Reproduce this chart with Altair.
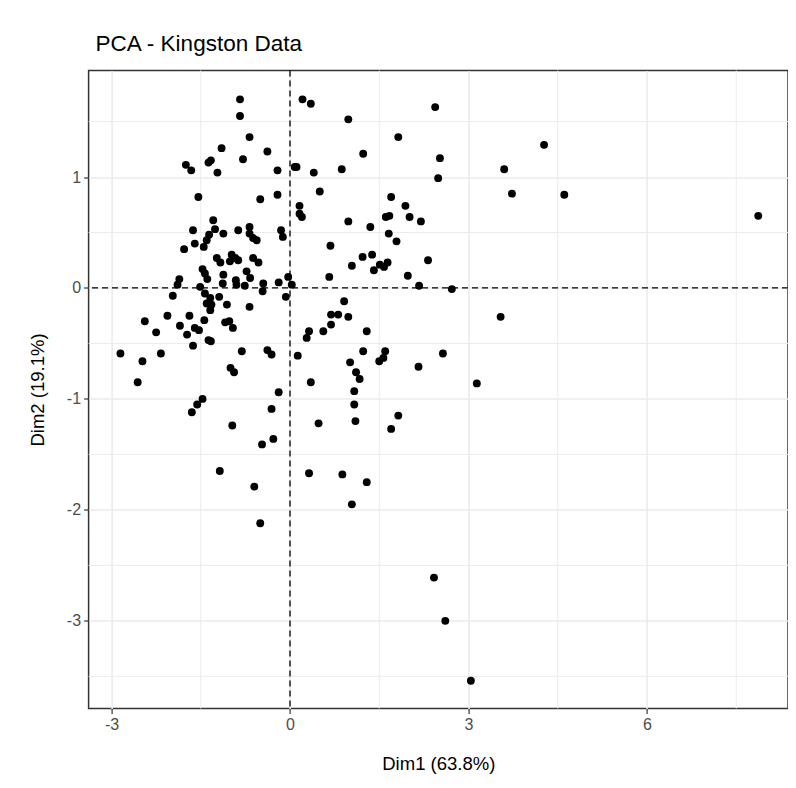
import altair as alt
import pandas as pd

# Individuals coordinates
dim1 = [
    -0.84, -0.84, -0.68, -1.15, -0.38, -1.75, -1.66, -1.37, -1.33, -1.22,
    -0.79, -0.21, -1.54, -0.50, -0.21, -1.29, -1.63, -0.87, -0.68, -0.68,
    -0.56, -1.12, -1.36, -1.40, -1.45, -1.60, -1.78, -0.15, -0.12, -1.26,
    -1.23, -1.17, -0.98, -1.01, -0.87, -0.62, -0.53, -1.47, -1.43, -1.39,
    -1.12, -1.13, -0.91, -0.90, -0.73, -0.67, -0.45, -0.19, -1.86, -1.89,
    -0.03, -0.62, -0.92, -1.51, -0.76,
    -1.97, -1.43, -1.34, -1.40, -1.32, -1.34, -1.19, -1.06, -0.68, -0.46,
    -0.07, -2.44, -2.06, -1.69, -1.85, -1.44, -2.25, -1.73, -1.60, -1.53,
    -1.63, -1.37, -1.33, -1.09, -1.02, -0.96, -2.85, -2.48, -2.17, -2.56,
    -0.81, -0.38, -0.31, -1.00, -0.94, -1.47, -1.56, -1.65, -0.19, -0.31,
    -0.97, -0.28, -0.47, -1.18, -0.60,
    0.21, 0.35, 0.98, 2.44, 1.82, 1.23, 2.52, 2.49, 0.08, 0.11,
    0.40, 0.87, 0.50, 0.16, 0.16, 0.20, 0.98, 1.35, 1.70, 1.94,
    2.01, 2.20, 1.61, 1.67, 1.66, 1.79, 0.68, 1.22, 1.38, 1.04,
    1.41, 1.51, 1.58, 1.64, 2.32, 0.66, 1.98, 2.17, 2.72, 0.03,
    0.91, 0.69, 0.81, 0.98, 0.69, 0.56, 0.32, 0.28, 1.29, 0.13,
    1.23, 1.01, 1.11, 1.17, 1.60, 1.57, 1.50, 2.57, 2.16, 0.35,
    1.08, 1.08, 1.10, 0.48, 1.82, 1.70, 3.14, 0.32, 0.88, 1.29,
    4.27, 3.60, 3.73, 4.61, 7.87, 3.54,
    -0.50, 1.04, 2.42, 2.61, 3.04,
]
dim2 = [
    1.70, 1.55, 1.36, 1.26, 1.23, 1.11, 1.06, 1.13, 1.15, 1.04,
    1.16, 1.06, 0.82, 0.80, 0.84, 0.61, 0.52, 0.52, 0.55, 0.49,
    0.43, 0.49, 0.48, 0.43, 0.37, 0.40, 0.35, 0.52, 0.46, 0.53,
    0.27, 0.23, 0.30, 0.24, 0.25, 0.27, 0.23, 0.17, 0.13, 0.08,
    0.12, 0.04, 0.07, 0.03, 0.15, 0.09, 0.04, 0.05, 0.08, 0.03,
    0.10, 0.45, 0.27, 0.01, 0.02,
    -0.07, -0.05, -0.09, -0.14, -0.15, -0.20, -0.08, -0.15, -0.17, -0.03,
    -0.08, -0.30, -0.25, -0.25, -0.34, -0.29, -0.40, -0.42, -0.36, -0.38,
    -0.52, -0.47, -0.48, -0.31, -0.30, -0.36, -0.59, -0.66, -0.59, -0.85,
    -0.57, -0.56, -0.60, -0.72, -0.76, -1.00, -1.05, -1.12, -0.94, -1.09,
    -1.24, -1.36, -1.41, -1.65, -1.79,
    1.70, 1.66, 1.52, 1.63, 1.36, 1.21, 1.17, 0.99, 1.09, 1.09,
    1.04, 1.07, 0.87, 0.74, 0.67, 0.64, 0.60, 0.55, 0.82, 0.74,
    0.64, 0.60, 0.64, 0.65, 0.49, 0.42, 0.38, 0.28, 0.30, 0.20,
    0.16, 0.21, 0.19, 0.23, 0.25, 0.10, 0.11, 0.02, -0.01, 0.03,
    -0.12, -0.24, -0.24, -0.26, -0.33, -0.39, -0.39, -0.45, -0.39, -0.61,
    -0.57, -0.67, -0.76, -0.82, -0.57, -0.63, -0.66, -0.59, -0.71, -0.85,
    -0.93, -1.05, -1.20, -1.22, -1.15, -1.27, -0.86, -1.67, -1.68, -1.75,
    1.29, 1.07, 0.85, 0.84, 0.65, -0.26,
    -2.12, -1.95, -2.61, -3.00, -3.54,
]

x_major = [-3, 0, 3, 6]
y_major = [-3, -2, -1, 0, 1]
x_minor = [-1.5, 1.5, 4.5, 7.5]
y_minor = [-3.5, -2.5, -1.5, -0.5, 0.5, 1.5]
x_domain = [-3.385, 8.37]
y_domain = [-3.79, 1.96]
origin = [0]

df = pd.DataFrame({"Dim1": dim1, "Dim2": dim2})

xscale = alt.Scale(domain=x_domain, nice=False, zero=False)
yscale = alt.Scale(domain=y_domain, nice=False, zero=False)
x_axis = alt.Axis(values=x_major, labelExpr="datum.value + ''", titlePadding=22)
y_axis = alt.Axis(values=y_major, labelExpr="datum.value + ''", titlePadding=19)
x_title = "Dim1 (63.8%)"
y_title = "Dim2 (19.1%)"


def xenc(field):
    return alt.X(field, scale=xscale, axis=x_axis, title=x_title)


def yenc(field):
    return alt.Y(field, scale=yscale, axis=y_axis, title=y_title)


vminor = alt.Chart(pd.DataFrame({"v": x_minor})).mark_rule(
    color="#EBEBEB", strokeWidth=1
).encode(x=xenc("v:Q"))

hminor = alt.Chart(pd.DataFrame({"h": y_minor})).mark_rule(
    color="#EBEBEB", strokeWidth=1
).encode(y=yenc("h:Q"))

vzero = alt.Chart(pd.DataFrame({"v0": origin})).mark_rule(
    color="black", strokeWidth=1.3, strokeDash=[6, 4]
).encode(x=xenc("v0:Q"))

hzero = alt.Chart(pd.DataFrame({"h0": origin})).mark_rule(
    color="black", strokeWidth=1.3, strokeDash=[6, 4]
).encode(y=yenc("h0:Q"))

points = alt.Chart(df).mark_circle(size=62, color="black", opacity=1).encode(
    x=xenc("Dim1:Q"),
    y=yenc("Dim2:Q"),
)

chart = (
    alt.layer(vminor, hminor, vzero, hzero, points)
    .properties(
        width=699.4,
        height=638,
        title="PCA - Kingston Data",
        autosize="none",
        padding={"left": 80.6, "top": 62.5, "right": 0, "bottom": 70},
        background="white",
    )
    .configure_view(stroke="#333333", strokeWidth=1.5)
    .configure_axis(
        domain=False,
        grid=True,
        gridColor="#EBEBEB",
        gridWidth=1.6,
        tickColor="#333333",
        tickSize=5,
        tickWidth=1.2,
        labelColor="#4D4D4D",
        labelFont="Liberation Sans",
        labelFontSize=16,
        labelPadding=3,
        titleFont="Liberation Sans",
        titleFontSize=18.5,
        titleFontWeight="normal",
        titleColor="black",
    )
    .configure_title(
        font="Liberation Sans",
        fontSize=22.5,
        fontWeight="normal",
        anchor="start",
        color="black",
        offset=14,
        dx=7,
        frame="group",
    )
)

chart.save("out.html", embed_options={"renderer": "svg", "actions": False})
